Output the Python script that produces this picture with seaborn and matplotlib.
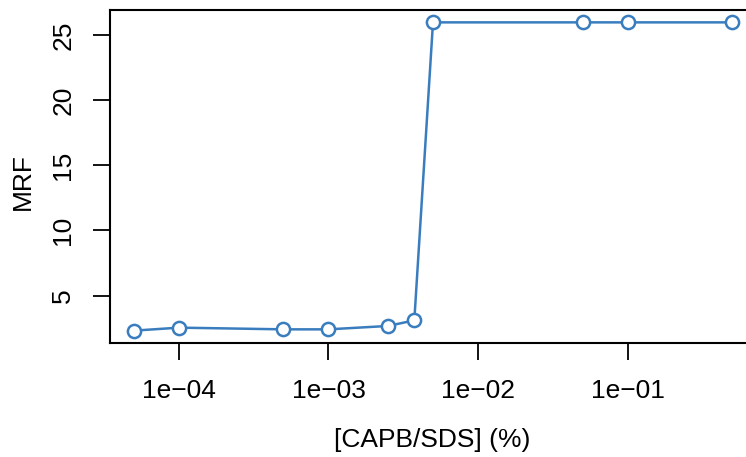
import numpy as np
import pandas as pd
import matplotlib
matplotlib.use("Agg")
import matplotlib.pyplot as plt
import seaborn as sns

conc = [5e-5, 1e-4, 5e-4, 1e-3, 2.5e-3, 3.75e-3, 5e-3, 5e-2, 1e-1, 5e-1]
mrf = [2.3, 2.53, 2.4, 2.4, 2.66, 3.09, 26.0, 26.0, 26.0, 26.0]
xticks = [1e-4, 1e-3, 1e-2, 1e-1]
xticklabels = ["1e\u221204", "1e\u221203", "1e\u221202", "1e\u221201"]
yticks = [5, 10, 15, 20, 25]

sns.set_theme(style="white")
plt.rcParams['font.family'] = ['Liberation Sans', 'DejaVu Sans']
plt.rcParams['text.color'] = 'black'
plt.rcParams['axes.labelcolor'] = 'black'
plt.rcParams['xtick.color'] = 'black'
plt.rcParams['ytick.color'] = 'black'

df = pd.DataFrame({"conc": conc, "mrf": mrf})
color = "#3A7DBE"

fig = plt.figure(figsize=(7.46, 4.57), dpi=100)
ax = fig.add_axes([110/746, (457-343)/457, 646/746, 333/457])
sns.lineplot(data=df, x="conc", y="mrf", ax=ax, color=color, linewidth=1.8,
             marker="o", markersize=9.5, markerfacecolor="white",
             markeredgecolor=color, markeredgewidth=1.8)
ax.set_xscale("log")
ax.set_xlim(10**-4.461, 10**-0.141)
ax.set_ylim(1.35, 26.95)
ax.set_xticks(xticks)
ax.set_xticklabels(xticklabels)
ax.minorticks_off()
ax.set_yticks(yticks)
ax.set_yticklabels([str(v) for v in yticks], rotation=90, va="center")
ax.tick_params(axis="both", which="major", length=12, width=1.3, color="black",
               labelcolor="black", labelsize=19, direction="out",
               bottom=True, left=True)
ax.tick_params(axis="x", pad=14)
ax.tick_params(axis="y", pad=13)
for s in ax.spines.values():
    s.set_color("black")
    s.set_linewidth(1.5)
ax.spines["right"].set_visible(False)
ax.set_xlabel("[CAPB/SDS] (%)", fontsize=19, color="black")
ax.set_ylabel("MRF", fontsize=19, color="black")
ax.xaxis.set_label_coords((432-110)/646, -(440-343)/333)
ax.yaxis.set_label_coords(-(110-23)/646, (343-182)/333)
ax.xaxis.label.set_va("center")
ax.yaxis.label.set_va("center")
ax.grid(False)

fig.savefig("out.png", dpi=100)
